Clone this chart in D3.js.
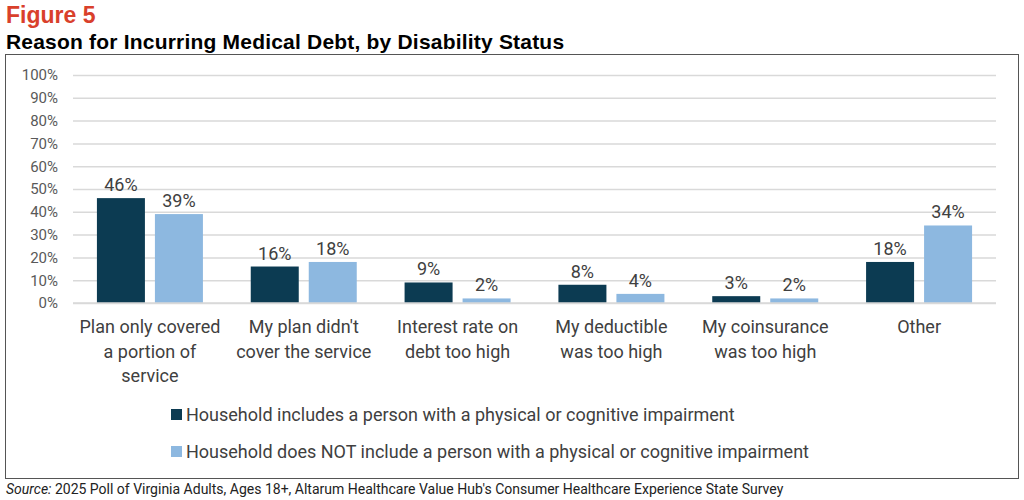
<!DOCTYPE html>
<html><head><meta charset="utf-8">
<script src="https://cdn.jsdelivr.net/npm/d3@7"></script>
<style>body{margin:0;background:#fff}</style>
</head><body>
<div id="chart"></div>
<script>
var categories = [
  ["Plan only covered", "a portion of", "service"],
  ["My plan didn't", "cover the service"],
  ["Interest rate on", "debt too high"],
  ["My deductible", "was too high"],
  ["My coinsurance", "was too high"],
  ["Other"]
];
var withImpairment = [46, 16, 9, 8, 3, 18];
var withoutImpairment = [39, 18, 2, 4, 2, 34];
var seriesNames = [
  "Household includes a person with a physical or cognitive impairment",
  "Household does NOT include a person with a physical or cognitive impairment"
];
var colors = ["#0c3b52", "#8db8e0"];
var yTicks = [0, 10, 20, 30, 40, 50, 60, 70, 80, 90, 100];

var font = "Roboto, 'Liberation Sans', sans-serif";
var W = 1024, H = 500;
var svg = d3.select("#chart").append("svg").attr("width", W).attr("height", H);

svg.append("text").attr("x", 6).attr("y", 23).attr("fill", "#d9402b")
  .style("font", "bold 23px 'Liberation Sans', sans-serif").text("Figure 5");
svg.append("text").attr("x", 6).attr("y", 49).attr("fill", "#000")
  .style("font", "bold 21px 'Liberation Sans', sans-serif").style("letter-spacing", "0.2px")
  .text("Reason for Incurring Medical Debt, by Disability Status");
svg.append("rect").attr("x", 5.5).attr("y", 54.5).attr("width", 1013).attr("height", 424)
  .attr("fill", "none").attr("stroke", "#555").attr("stroke-width", 1);
svg.append("text").attr("x", 6).attr("y", 494).attr("fill", "#222")
  .style("font", "14px " + font)
  .html("<tspan font-style='italic'>Source:</tspan> 2025 Poll of Virginia Adults, Ages 18+, Altarum Healthcare Value Hub's Consumer Healthcare Experience State Survey");

var x = d3.scaleBand().domain(d3.range(categories.length)).range([73, 996]);
var y = d3.scaleLinear().domain([0, 100]).range([303, 75]);

var g = svg.append("g");
g.append("g").attr("transform", "translate(73,0)")
  .call(d3.axisLeft(y).tickValues(yTicks).tickSize(-923).tickFormat(function(d){return d + "%";}))
  .call(function(a){
    a.select(".domain").remove();
    a.selectAll("line").attr("stroke", "#d9d9d9").attr("stroke-width", 1.5);
    a.selectAll("text").attr("x", -15).attr("fill", "#595959").style("font", "15px " + font);
  });

var bw = 48, gap = 10;
var series = [withImpairment, withoutImpairment];
series.forEach(function(vals, si){
  var off = si === 0 ? -gap/2 - bw : gap/2;
  g.selectAll(".b" + si).data(vals).enter().append("rect")
    .attr("x", function(d, i){ return x(i) + x.bandwidth()/2 + off; })
    .attr("y", function(d){ return y(d); })
    .attr("width", bw)
    .attr("height", function(d){ return y(0) - y(d); })
    .attr("fill", colors[si]);
  g.selectAll(".l" + si).data(vals).enter().append("text")
    .attr("x", function(d, i){ return x(i) + x.bandwidth()/2 + off + bw/2; })
    .attr("y", function(d){ return y(d) - 7; })
    .attr("text-anchor", "middle").attr("fill", "#404040")
    .style("font", "18px " + font)
    .text(function(d){ return d + "%"; });
});

g.append("line").attr("x1", 73).attr("x2", 996).attr("y1", y(0)).attr("y2", y(0))
  .attr("stroke", "#d9d9d9").attr("stroke-width", 1.5);

var cl = g.selectAll(".cat").data(categories).enter().append("text")
  .attr("text-anchor", "middle").attr("fill", "#404040").style("font", "18px " + font);
cl.selectAll("tspan").data(function(d, i){ return d.map(function(t){ return [t, i]; }); })
  .enter().append("tspan")
  .attr("x", function(d){ return x(d[1]) + x.bandwidth()/2; })
  .attr("y", function(d, j){ return 333 + j * 24.5; })
  .text(function(d){ return d[0]; });

seriesNames.forEach(function(n, i){
  var ly = 415 + i * 37;
  svg.append("rect").attr("x", 171).attr("y", ly - 6).attr("width", 11).attr("height", 11).attr("fill", colors[i]);
  svg.append("text").attr("x", 186).attr("y", ly + 6).attr("fill", "#404040")
    .style("font", "18px " + font).text(n);
});
</script>
</body></html>
